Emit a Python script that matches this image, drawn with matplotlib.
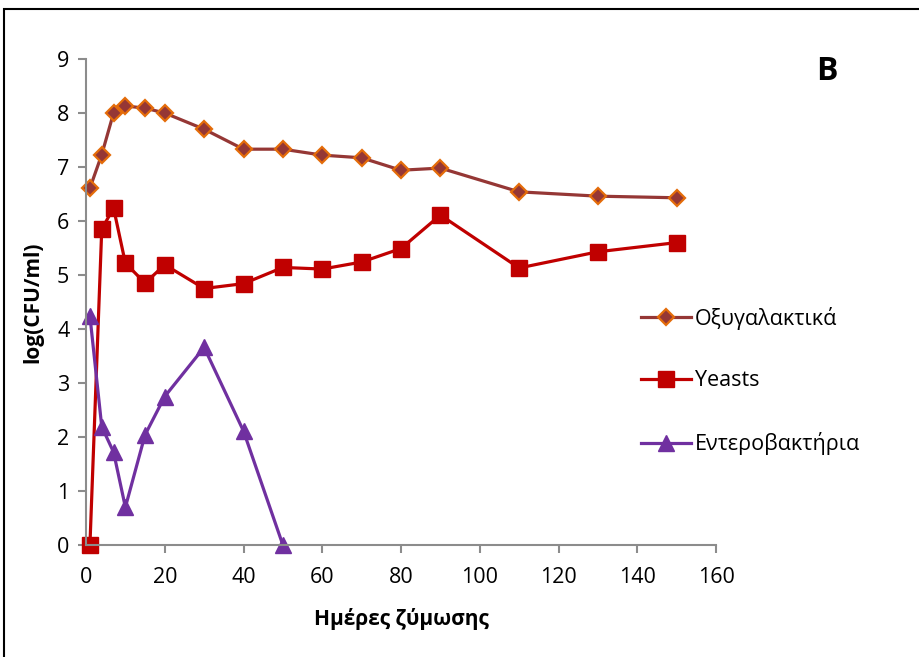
import matplotlib.pyplot as plt
from matplotlib.patches import Rectangle

plt.rcParams['font.family'] = ['Open Sans', 'DejaVu Sans']

# Ημέρες ζύμωσης
days = [1, 4, 7, 10, 15, 20, 30, 40, 50, 60, 70, 80, 90, 110, 130, 150]
oxy = [6.61, 7.23, 8.0, 8.13, 8.09, 8.0, 7.70, 7.33, 7.33, 7.22, 7.17, 6.94, 6.98, 6.54, 6.46, 6.43]
yeasts = [0.0, 5.85, 6.24, 5.22, 4.85, 5.19, 4.75, 4.84, 5.14, 5.11, 5.24, 5.49, 6.11, 5.13, 5.43, 5.60]
entero_days = [1, 4, 7, 10, 15, 20, 30, 40, 50]
entero = [4.24, 2.19, 1.72, 0.70, 2.04, 2.75, 3.66, 2.11, 0.0]

fig = plt.figure(figsize=(9.2, 6.57), dpi=100)
ax = fig.add_axes([86 / 920, 1 - 545 / 657, 630 / 920, 486 / 657])

ax.plot(days, oxy, color='#953735', lw=2.3, marker='D', ms=8.5,
        mfc='#953735', mec='#E46C0A', mew=1.6, label='Οξυγαλακτικά', clip_on=False)
ax.plot(days, yeasts, color='#C00000', lw=2.3, marker='s', ms=12,
        mfc='#C00000', mec='#C00000', label='Yeasts', clip_on=False)
ax.plot(entero_days, entero, color='#7030A0', lw=2.3, marker='^', ms=12,
        mfc='#7030A0', mec='#7030A0', label='Εντεροβακτήρια', clip_on=False)

ax.set_xlim(0, 160)
ax.set_ylim(0, 9)
ax.set_xticks(range(0, 161, 20))
ax.set_yticks(range(0, 10))
for s in ['top', 'right']:
    ax.spines[s].set_visible(False)
for s in ['left', 'bottom']:
    ax.spines[s].set_color('#8c8c8c')
    ax.spines[s].set_linewidth(1.5)
ax.tick_params(direction='out', length=6, width=1.5, color='#8c8c8c',
               labelsize=15.5, pad=6)
ax.tick_params(axis='x', pad=10)

ax.set_xlabel('Ημέρες ζύμωσης', fontsize=15, fontweight='bold', labelpad=14)
ax.set_ylabel('log(CFU/ml)', fontsize=15, fontweight='bold', labelpad=10)

ax.legend(loc='center left', bbox_to_anchor=(622 / 920, 1 - 381 / 657),
          bbox_transform=fig.transFigure, frameon=False, fontsize=15.5,
          labelspacing=1.9, handlelength=2.3, handletextpad=0.2)

fig.text(827 / 920, 1 - 72 / 657, 'B', fontsize=23, fontweight='bold',
         ha='center', va='center')

fig.patches.append(Rectangle((4 / 920, -0.05), 1.0, 1 - 9 / 657 + 0.05,
                             transform=fig.transFigure, fill=False,
                             edgecolor='black', lw=1.5))

fig.savefig('out.png', dpi=100)
